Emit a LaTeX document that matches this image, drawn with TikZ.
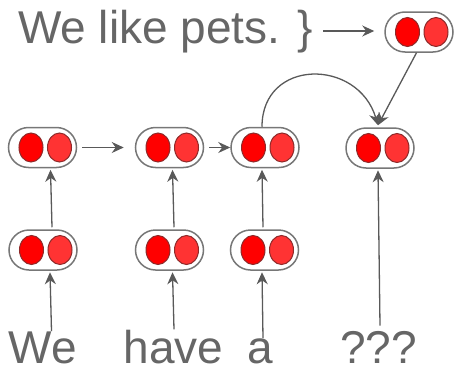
\documentclass[tikz,border=0pt]{standalone}
\usepackage{fontspec}
\setmainfont{Liberation Sans}
\usepackage{tikz}
\usetikzlibrary{positioning,arrows.meta,shapes.geometric}
\definecolor{wordgray}{HTML}{666666}
\definecolor{linegray}{HTML}{595959}
\definecolor{pillgray}{HTML}{777777}
\definecolor{redleft}{HTML}{FF0000}
\definecolor{redright}{HTML}{FF3333}
\definecolor{reddark}{HTML}{8E2A2A}

\begin{document}
\begin{tikzpicture}[x=1pt,y=-1pt,
	word/.style={text=wordgray,font=\fontsize{46}{46}\selectfont,inner sep=0pt,anchor=base},
	pill/.style={draw=pillgray,line width=1.5pt,fill=white,rounded corners=20pt,minimum width=68pt,minimum height=40pt,inner sep=0pt},
	dotleft/.style={ellipse,draw=reddark,line width=1pt,fill=redleft,minimum width=24pt,minimum height=29pt,inner sep=0pt},
	dotright/.style={ellipse,draw=reddark,line width=1pt,fill=redright,minimum width=24pt,minimum height=29pt,inner sep=0pt},
	arrow/.style={draw=linegray,line width=1.3pt,-{Stealth[length=12pt,width=11pt]}}]
		\useasboundingbox (0,0) rectangle (455,367);

		%words
		\node[word] (pets) at (165.5,43) {We like pets. \}};
		\node[word] (we) at (42.5,363) {We};
		\node[word] (have) at (173.5,363) {have};
		\node[word] (a) at (260.5,363) {a};
		\node[word] (what) at (378.5,363) {???};

		%cells
		\foreach \n/\x/\y in {top/419/32,
				h1/42.5/147.5,h2/169.5/147.5,h3/265/147.5,h4/380/148,
				e1/43/250,e2/169.5/250,e3/264.5/250} {
			\node[pill] (\n) at (\x,\y) {};
			\node[dotleft] (\n l) at ([xshift=-11.5pt]\n.center) {};
			\node[dotright] (\n r) at ([xshift=17pt]\n.center) {};
		}

		%edges up
		\draw[arrow] ([xshift=9pt]we.north) -- ([xshift=7pt,yshift=-1.5pt]e1.south);
		\draw[arrow] ([xshift=.5pt]have.north) -- ([xshift=3pt,yshift=-1.5pt]e2.south);
		\draw[arrow] ([xshift=2.5pt]a.north) -- ([xshift=-2.5pt,yshift=-1.5pt]e3.south);
		\draw[arrow] ([xshift=1.5pt,yshift=5pt]what.north) -- ([xshift=-2pt,yshift=-1.5pt]h4.south);
		\draw[arrow] ([xshift=9pt,yshift=2pt]e1.north) -- ([xshift=8pt,yshift=-1.5pt]h1.south);
		\draw[arrow] ([xshift=4.5pt,yshift=2pt]e2.north) -- ([xshift=3pt,yshift=-1.5pt]h2.south);
		\draw[arrow] ([xshift=-1.5pt,yshift=2pt]e3.north) -- ([xshift=-3pt,yshift=-1.5pt]h3.south);

		%edges across
		\draw[arrow] ([xshift=5pt]h1.east) -- ([xshift=-11pt]h2.west);
		\draw[arrow] ([xshift=5pt]h2.east) -- (h3.west);
		\draw[arrow] ([xshift=10pt,yshift=1pt]pets.east |- top.west) -- ([xshift=-10pt,yshift=1pt]top.west);

		%edges into last cell
		\draw[arrow] ([xshift=-2.5pt]top.south) -- ([xshift=-2pt,yshift=2pt]h4.north);
		\draw[arrow] ([xshift=-3pt]h3.north) .. controls (262,58) and (358,58) .. ([xshift=-2pt,yshift=2pt]h4.north);
\end{tikzpicture}
\end{document}
